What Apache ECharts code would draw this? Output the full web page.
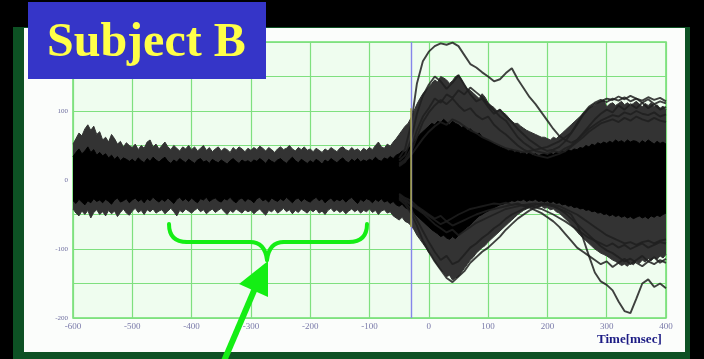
<!DOCTYPE html>
<html>
<head>
<meta charset="utf-8">
<script src="https://cdn.jsdelivr.net/npm/echarts/dist/echarts.min.js"></script>
<style>
  html, body { margin: 0; padding: 0; background: #000; }
  #chart { width: 704px; height: 359px; }
</style>
</head>
<body>
<div id="chart"></div>
<script>
// Averaged-trial EEG overlay, Subject B. Amplitudes in uV, time in msec.

// Envelope sampling grid (5 ms) for the dense trial band
const envStart = -600;
const envStep = 5;

// outer (grey) fringe of the trial band
const outerHi = [
  52, 60, 68, 64, 74, 80, 72, 78, 66, 70,
  58, 62, 55, 66, 60, 52, 56, 48, 54, 50,
  47, 52, 44, 50, 46, 55, 58, 48, 52, 45,
  50, 55, 48, 44, 50, 46, 42, 48, 45, 50,
  44, 48, 42, 46, 50, 43, 47, 41, 45, 48,
  42, 46, 44, 40, 47, 43, 48, 45, 41, 46,
  43, 47, 44, 49, 46, 42, 47, 44, 40, 45,
  48, 44, 46, 50, 45, 42, 47, 44, 48, 43,
  45, 41, 46, 43, 40, 45, 42, 47, 44, 41,
  46, 48, 44, 42, 47, 43, 45, 41, 46, 43,
  47, 44, 50, 55, 48, 46, 52, 49, 55, 60,
  66, 72, 78, 82,
  90, 100, 110, 118, 125, 130,
  135, 140, 145, 142, 150, 148, 145, 140, 144, 150,
  152, 146, 138, 132, 130, 126, 122, 118, 125, 120,
  112, 108, 105, 100, 102, 98, 95, 90, 85, 82,
  82, 78, 75, 72, 70, 68, 66, 64, 62, 62,
  60, 58, 62, 60, 64, 68, 72, 76, 80, 84,
  88, 92, 96, 100, 104, 106, 108, 112, 114, 116,
  106, 110, 112, 108, 111, 114, 109, 112, 108, 111,
  114, 110, 106, 111, 108, 112, 106, 109, 104, 107,
  102
];
const outerLo = [
  -42, -48, -52, -45, -50, -44, -55, -47, -43, -50,
  -46, -52, -44, -49, -45, -53, -47, -42, -48, -51,
  -45, -41, -47, -44, -50, -43, -46, -42, -48, -45,
  -43, -49, -45, -41, -46, -52, -44, -47, -42, -45,
  -48, -44, -41, -46, -43, -49, -45, -42, -47, -44,
  -41, -46, -50, -44, -47, -42, -45, -48, -43, -46,
  -44, -49, -45, -42, -47, -51, -44, -46, -42, -48,
  -45, -41, -46, -43, -49, -44, -47, -42, -45, -48,
  -43, -46, -42, -48, -45, -50, -44, -41, -46, -43,
  -47, -44, -49, -45, -42, -46, -43, -48, -44, -46,
  -42, -47, -44, -50, -45, -43, -48, -46, -52, -55,
  -58, -54, -60, -62,
  -66, -72, -80, -86, -92, -98,
  -105, -110, -118, -124, -130, -134, -140, -138, -145, -142,
  -140, -134, -128, -122, -116, -112, -106, -102, -98, -95,
  -90, -86, -82, -78, -74, -70, -66, -62, -58, -54,
  -50, -47, -44, -42, -40, -41, -39, -40, -38, -41,
  -40, -43, -42, -46, -48, -52, -56, -60, -65, -70,
  -75, -80, -84, -88, -92, -96, -100, -103, -106, -108,
  -110, -113, -116, -118, -121, -124, -122, -125, -120, -123,
  -118, -121, -116, -119, -114, -117, -112, -115, -110, -113,
  -108
];

// solid black core of the trial band
const coreHi = [
  34, 40, 45, 38, 42, 48, 40, 44, 36, 40,
  35, 38, 32, 36, 30, 34, 28, 32, 30, 27,
  30, 26, 32, 28, 25, 31, 27, 33, 29, 26,
  30, 33, 27, 24, 29, 26, 31, 28, 25, 30,
  27, 24, 29, 31, 26, 28, 24, 30, 27, 25,
  29, 26, 23, 28, 31, 27, 24, 29, 26, 28,
  25, 29, 27, 31, 28, 24, 30, 27, 25, 29,
  31, 27, 24, 29, 33, 28, 25, 30, 27, 24,
  28, 25, 30, 27, 23, 29, 26, 31, 28, 25,
  29, 32, 27, 25, 30, 27, 31, 26, 29, 27,
  30, 28, 33, 29, 27, 32, 30, 34, 31, 36,
  38, 42, 40, 45,
  50, 55, 60, 66, 70, 74,
  78, 82, 80, 85, 83, 88, 84, 80, 85, 82,
  80, 76, 78, 72, 74, 70, 66, 68, 62, 60,
  58, 55, 52, 50, 48, 46, 45, 42, 44, 40,
  42, 38, 40, 37, 39, 36, 38, 35, 37, 38,
  36, 39, 37, 40, 38, 42, 40, 44, 42, 45,
  44, 47, 46, 50, 48, 52, 50, 54, 52, 55,
  53, 56, 54, 58, 55, 57, 54, 58, 55, 57,
  56, 53, 57, 54, 58, 55, 52, 56, 53, 55,
  52
];
const coreLo = [
  -30, -34, -28, -32, -36, -30, -33, -27, -31, -29,
  -33, -28, -31, -35, -29, -26, -32, -30, -27, -33,
  -29, -26, -31, -28, -33, -27, -30, -25, -29, -32,
  -28, -31, -26, -30, -34, -28, -25, -30, -27, -31,
  -26, -30, -33, -27, -29, -25, -31, -28, -26, -30,
  -32, -27, -29, -25, -30, -33, -28, -26, -31, -27,
  -29, -33, -27, -25, -30, -28, -32, -26, -29, -31,
  -27, -30, -25, -29, -33, -28, -26, -31, -27, -30,
  -32, -28, -25, -30, -27, -33, -29, -26, -31, -28,
  -30, -27, -32, -28, -25, -30, -34, -28, -31, -27,
  -29, -33, -28, -31, -27, -32, -30, -34, -31, -36,
  -38, -35, -40, -42,
  -45, -48, -52, -56, -60, -64,
  -68, -72, -75, -78, -82, -80, -84, -86, -82, -85,
  -80, -76, -72, -68, -65, -60, -56, -52, -50, -47,
  -45, -42, -40, -38, -36, -35, -33, -32, -30, -31,
  -29, -30, -28, -31, -29, -30, -28, -31, -30, -32,
  -30, -33, -31, -34, -33, -36, -35, -38, -37, -40,
  -39, -42, -41, -44, -43, -46, -45, -48, -47, -50,
  -49, -52, -50, -53, -51, -54, -52, -55, -53, -56,
  -54, -52, -55, -53, -56, -52, -54, -51, -53, -50,
  -48
];

// Individual trials that leave the band after the stimulus (10 ms grid from -50)
const trialStart = -50;
const trialStep = 10;
const trialA = [32, 45, 80, 140, 172, 186, 194, 198, 196, 199, 194, 181, 168, 163, 156, 150, 143, 146, 155, 162, 146, 133, 120, 110, 98, 86, 74, 64, 58, 54, 58, 68, 78, 88, 96, 102, 98, 108, 102, 110, 104, 112, 104, 110, 102, 106];
const trialB = [28, 36, 58, 96, 122, 138, 150, 143, 132, 141, 152, 138, 124, 114, 118, 106, 96, 102, 92, 84, 74, 66, 58, 52, 46, 42, 44, 48, 56, 68, 82, 96, 106, 112, 116, 113, 118, 115, 120, 114, 118, 112, 117, 110, 114, 111];
const trialC = [24, 30, 45, 72, 92, 104, 118, 112, 124, 119, 130, 124, 134, 127, 120, 110, 101, 92, 86, 74, 62, 54, 48, 42, 40, 38, 42, 40, 46, 50, 58, 66, 74, 80, 86, 90, 94, 92, 98, 95, 100, 96, 94, 98, 92, 95];
const trialD = [20, 26, 40, 62, 84, 98, 108, 116, 110, 118, 108, 100, 104, 94, 88, 92, 80, 72, 66, 58, 50, 44, 40, 36, 34, 32, 35, 38, 42, 48, 55, 62, 70, 76, 82, 85, 88, 84, 90, 86, 92, 88, 85, 90, 86, 84];
const trialE = [-28, -35, -48, -66, -88, -104, -118, -130, -142, -148, -140, -132, -120, -112, -104, -98, -90, -82, -72, -64, -56, -50, -44, -40, -36, -34, -36, -38, -42, -46, -50, -56, -62, -68, -74, -80, -84, -88, -92, -90, -94, -90, -88, -92, -88, -86];
const trialF = [-26, -32, -42, -58, -74, -90, -104, -116, -110, -122, -118, -108, -98, -92, -84, -78, -70, -64, -56, -50, -46, -42, -38, -36, -34, -36, -38, -42, -48, -56, -64, -72, -80, -88, -96, -102, -106, -112, -118, -114, -120, -125, -118, -122, -116, -120];
const trialG = [-24, -30, -36, -42, -48, -56, -64, -70, -76, -72, -80, -74, -68, -62, -58, -54, -50, -46, -42, -40, -38, -36, -35, -34, -36, -35, -38, -42, -45, -50, -64, -84, -110, -134, -147, -152, -160, -176, -190, -193, -172, -150, -144, -155, -150, -157];
const trialH = [-22, -28, -34, -40, -46, -52, -58, -64, -60, -66, -62, -58, -54, -50, -47, -44, -42, -40, -38, -36, -35, -37, -40, -44, -48, -54, -60, -68, -78, -88, -98, -104, -110, -116, -122, -118, -126, -120, -114, -122, -116, -110, -118, -112, -120, -114];
const trialI = [22, 28, 36, 48, 60, 70, 78, 84, 80, 88, 84, 78, 72, 68, 62, 58, 54, 50, 46, 44, 42, 40, 42, 44, 46, 48, 52, 56, 62, 68, 80, 94, 104, 110, 114, 118, 116, 121, 117, 122, 118, 115, 120, 116, 119, 114];
const trialJ = [-20, -26, -30, -38, -44, -50, -56, -52, -60, -55, -50, -46, -42, -40, -38, -36, -34, -35, -33, -36, -34, -38, -36, -40, -42, -46, -50, -55, -60, -66, -72, -78, -84, -88, -92, -96, -92, -98, -94, -100, -96, -92, -98, -94, -90, -92];
const trials = [trialA, trialB, trialC, trialD, trialE, trialF, trialG, trialH, trialI, trialJ];

// Axis ticks and stimulus marker
const xTicks = [-600, -500, -400, -300, -200, -100, 0, 100, 200, 300, 400];
const yLabelled = [100, 0, -100, -200];
const stimulusTime = -30;
const stimulusMarkTop = 104;
const stimulusMarkBottom = -68;

const toPairs = (vals, start, step) => vals.map((v, i) => [start + i * step, v]);

function bandSeries(vals, color) {
  return {
    type: 'line',
    data: toPairs(vals, envStart, envStep),
    symbol: 'none',
    silent: true,
    lineStyle: { color: color, width: 1 },
    areaStyle: { color: color, opacity: 1 },
    z: 2
  };
}

const series = [
  bandSeries(outerHi, '#333333'),
  bandSeries(outerLo, '#333333'),
  bandSeries(coreHi, '#000000'),
  bandSeries(coreLo, '#000000')
];
trials.forEach(t => {
  series.push({
    type: 'line',
    data: toPairs(t, trialStart, trialStep),
    symbol: 'none',
    silent: true,
    lineStyle: { color: 'rgba(30,30,30,0.85)', width: 1.9 },
    z: 3
  });
});
series[series.length - 1].markLine = {
  silent: true,
  symbol: 'none',
  animation: false,
  label: { show: false },
  data: [
    { xAxis: stimulusTime, lineStyle: { color: '#8686ea', width: 1.4, type: 'solid' } },
    [
      { coord: [stimulusTime, stimulusMarkTop], lineStyle: { color: '#a3a040', width: 1.5, type: 'solid' } },
      { coord: [stimulusTime, stimulusMarkBottom] }
    ]
  ]
};

const green = '#14ee14';
const braceStyle = { fill: 'none', stroke: green, lineWidth: 4, lineCap: 'round', lineJoin: 'round' };

const chart = echarts.init(document.getElementById('chart'), null, { renderer: 'canvas' });
chart.setOption({
  backgroundColor: '#000',
  animation: false,
  grid: {
    left: 73, right: 38, top: 42, bottom: 41,
    show: true,
    backgroundColor: '#effdef',
    borderColor: '#6ee06e',
    borderWidth: 1.5
  },
  xAxis: {
    type: 'value',
    min: -600, max: 400, interval: 100,
    axisLine: { show: false },
    axisTick: { show: false },
    splitLine: { show: true, lineStyle: { color: '#7fe07f', width: 1.2 } },
    axisLabel: {
      margin: 4,
      color: '#7a7aaa',
      fontSize: 9,
      fontFamily: 'Liberation Serif',
      formatter: v => xTicks.includes(v) ? String(v) : ''
    }
  },
  yAxis: {
    type: 'value',
    min: -200, max: 200, interval: 50,
    axisLine: { show: false },
    axisTick: { show: false },
    splitLine: { show: true, lineStyle: { color: '#7fe07f', width: 1.2 } },
    axisLabel: {
      margin: 5,
      color: '#6f6fa0',
      fontSize: 7,
      fontFamily: 'Liberation Serif',
      formatter: v => yLabelled.includes(v) ? String(v) : ''
    }
  },
  graphic: [
    // panel frame and white card behind the plot
    { type: 'rect', z: -20, shape: { x: 13, y: 27, width: 677, height: 336 }, style: { fill: '#0d5124' } },
    { type: 'rect', z: -19, shape: { x: 24, y: 28, width: 661, height: 324 }, style: { fill: '#fbfdfb' } },
    // axis title
    { type: 'text', z: 50, x: 597, y: 340, style: { text: 'Time[msec]', font: 'bold 13px "Liberation Serif"', fill: '#1c1c84', verticalAlign: 'middle' } },
    // title plate
    { type: 'rect', z: 60, shape: { x: 28, y: 2, width: 238, height: 77 }, style: { fill: '#3535c8' } },
    { type: 'text', z: 61, x: 47, y: 44, style: { text: 'Subject B', font: 'bold 48px "Liberation Serif"', fill: '#ffff48', verticalAlign: 'middle' } },
    // brace marking the baseline window
    { type: 'bezierCurve', z: 62, shape: { x1: 169, y1: 224, cpx1: 169, cpy1: 242, x2: 187, y2: 242 }, style: braceStyle },
    { type: 'line', z: 62, shape: { x1: 187, y1: 242, x2: 250, y2: 242 }, style: braceStyle },
    { type: 'bezierCurve', z: 62, shape: { x1: 250, y1: 242, cpx1: 265, cpy1: 242, x2: 267, y2: 260 }, style: braceStyle },
    { type: 'bezierCurve', z: 62, shape: { x1: 267, y1: 260, cpx1: 269, cpy1: 242, x2: 284, y2: 242 }, style: braceStyle },
    { type: 'line', z: 62, shape: { x1: 284, y1: 242, x2: 349, y2: 242 }, style: braceStyle },
    { type: 'bezierCurve', z: 62, shape: { x1: 349, y1: 242, cpx1: 367, cpy1: 242, x2: 367, y2: 224 }, style: braceStyle },
    // arrow pointing at the brace
    { type: 'line', z: 62, shape: { x1: 221, y1: 368, x2: 256, y2: 286 }, style: { stroke: green, lineWidth: 6 } },
    { type: 'polygon', z: 63, shape: { points: [[268, 261], [239, 284], [268, 297]] }, style: { fill: green } }
  ],
  series: series
});
</script>
</body>
</html>
